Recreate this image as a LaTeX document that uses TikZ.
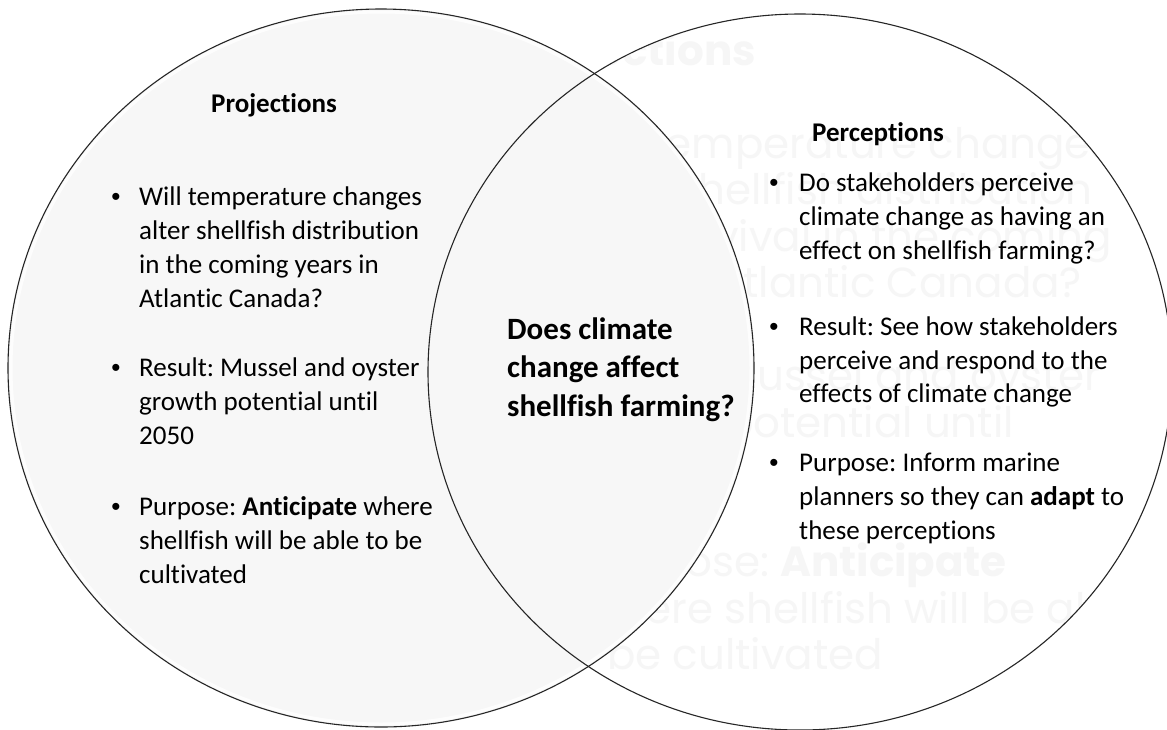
\documentclass[tikz,border=0pt]{standalone}
\usepackage{fontspec}
\setmainfont{Carlito}[Ligatures=NoCommon]
\newfontfamily\ghostfont{Poppins}
\newfontfamily\dotfont{Liberation Sans}
\frenchspacing
\begin{document}
\begin{tikzpicture}[x=1pt,y=-1pt,
  body/.style={anchor=base west, inner sep=0pt, font=\fontsize{27}{33}\selectfont},
  head/.style={anchor=base, inner sep=0pt, font=\fontsize{27}{33}\selectfont\bfseries},
  ctr/.style={anchor=base west, inner sep=0pt, font=\fontsize{31}{38}\selectfont\bfseries},
  dot/.style={anchor=base, inner sep=0pt, font=\dotfont\fontsize{26}{30}\selectfont},
  ghost/.style={anchor=base east, inner sep=0pt, text=black!3.5, font=\ghostfont\fontsize{42}{46}\selectfont},
  ring/.style={line width=1.1pt, draw=black!85}]
\useasboundingbox (0,0) rectangle (1167,729);
\fill[white] (0,0) rectangle (1167,729);

% faint lettering showing through the right-hand circle
\begin{scope}
  \clip (800,372) ellipse [x radius=372pt, y radius=358pt];
  \node[ghost] (g1) at (756,65) {\bfseries Projections};
  \node[ghost] (g2) at (1113,158) {Will temperature changes};
  \node[ghost] (g3) at (1093,204.5) {alter shellfish distribution};
  \node[ghost] (g4) at (1112,251) {and survival in the coming};
  \node[ghost] (g5) at (1082,297.5) {years in Atlantic Canada?};
  \node[ghost] (g6) at (1100,390.5) {Result: Mussel and oyster};
  \node[ghost] (g7) at (1014,437) {growth potential until};
  \node[ghost] (g8) at (1007,576.5) {Purpose: \bfseries Anticipate};
  \node[ghost] (g9) at (1140,623) {where shellfish will be able};
  \node[ghost] (g10) at (883,669.5) {to be cultivated};
\end{scope}

% left circle: pale grey disc with a soft light rim
\fill[black!3] (381,368) ellipse [x radius=373pt, y radius=359pt];
\draw[white, line width=3pt, opacity=0.8] (381,368) ellipse [x radius=370pt, y radius=356pt];
\draw[ring] (381,368) ellipse [x radius=373pt, y radius=359pt];
% right circle: outline only
\draw[ring] (800,372) ellipse [x radius=372pt, y radius=358pt];

% Projections
\node[head] (projh) at (274,112) {Projections};
\node[dot] (pb1) at (116,205) {•};
\node[body] (p1a) at (139,205) {Will temperature changes};
\node[body] (p1b) at (139,239) {alter shellfish distribution};
\node[body] (p1c) at (139,273) {in the coming years in};
\node[body] (p1d) at (139,307) {Atlantic Canada?};
\node[dot] (pb2) at (116,376) {•};
\node[body] (p2a) at (139,376) {Result: Mussel and oyster};
\node[body] (p2b) at (139,410) {growth potential until};
\node[body] (p2c) at (139,444) {2050};
\node[dot] (pb3) at (116,515) {•};
\node[body] (p3a) at (139,515) {Purpose: \textbf{Anticipate} where};
\node[body] (p3b) at (139,549) {shellfish will be able to be};
\node[body] (p3c) at (139,583) {cultivated};

% Perceptions
\node[head] (perh) at (878,141) {Perceptions};
\node[dot] (qb1) at (774,191) {•};
\node[body] (q1a) at (799,191) {Do stakeholders perceive};
\node[body] (q1b) at (799,225) {climate change as having an};
\node[body] (q1c) at (799,259) {effect on shellfish farming?};
\node[dot] (qb2) at (774,335) {•};
\node[body] (q2a) at (799,335) {Result: See how stakeholders};
\node[body] (q2b) at (799,369) {perceive and respond to the};
\node[body] (q2c) at (799,402) {effects of climate change};
\node[dot] (qb3) at (774,471) {•};
\node[body] (q3a) at (799,471) {Purpose: Inform marine};
\node[body] (q3b) at (799,505) {planners so they can \textbf{adapt} to};
\node[body] (q3c) at (799,539) {these perceptions};

% shared question in the overlap
\node[ctr] (c1) at (507,339) {Does climate};
\node[ctr] (c2) at (507,377) {change affect};
\node[ctr] (c3) at (507,416) {shellfish farming?};
\end{tikzpicture}
\end{document}
